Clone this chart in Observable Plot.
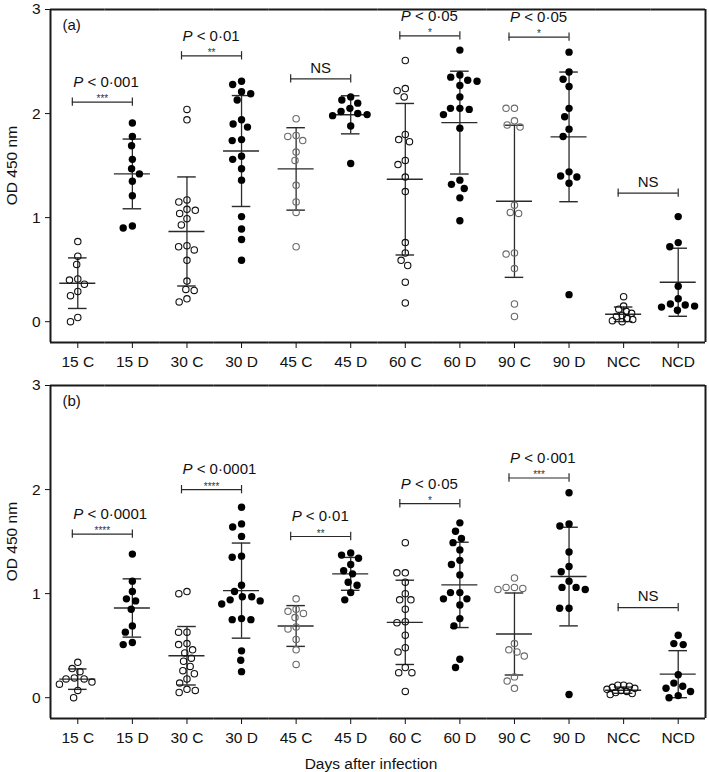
<!DOCTYPE html>
<html>
<head>
<meta charset="utf-8">
<script src="https://cdn.jsdelivr.net/npm/d3@7"></script>
<script src="https://cdn.jsdelivr.net/npm/@observablehq/plot@0.6"></script>
<style>
  html, body { margin: 0; padding: 0; background: #fff; }
  body { width: 709px; font-family: "Liberation Sans", Arial, sans-serif; }
  #caption { width: 709px; height: 24px; box-sizing: border-box; padding-left: 33px; padding-top: 7px;
             text-align: center; font-size: 15.5px; line-height: 17px; color: #111; }
  svg { display: block; }
</style>
</head>
<body>
<div id="panelA"></div>
<div id="panelB"></div>
<div id="caption">Days after infection</div>
<script>
// ---- categories ----
const cats = ["15 C", "15 D", "30 C", "30 D", "45 C", "45 D", "60 C", "60 D", "90 C", "90 D", "NCC", "NCD"];

// ---- panel (a) values (OD 450 nm) ----
const a15C = [0.77, 0.63, 0.55, 0.41, 0.40, 0.36, 0.29, 0.25, 0.04, 0.00];
const a15D = [1.91, 1.78, 1.69, 1.56, 1.47, 1.42, 1.35, 1.21, 0.92, 0.90];
const a30C = [2.04, 1.94, 1.17, 1.15, 1.08, 1.07, 1.04, 0.99, 0.93, 0.73, 0.72, 0.69, 0.59, 0.39, 0.31, 0.30, 0.22, 0.19];
const a30D = [2.31, 2.28, 2.21, 2.19, 2.13, 1.94, 1.90, 1.87, 1.75, 1.74, 1.59, 1.56, 1.47, 1.36, 1.01, 0.89, 0.79, 0.59];
const a45C = [1.95, 1.79, 1.78, 1.74, 1.63, 1.55, 1.31, 1.15, 1.05, 0.72];
const a45D = [2.16, 2.13, 2.10, 2.05, 2.02, 2.00, 1.99, 1.98, 1.88, 1.52];
const a60C = [2.51, 2.24, 2.22, 2.16, 1.80, 1.75, 1.73, 1.55, 1.51, 1.39, 1.25, 0.76, 0.66, 0.59, 0.54, 0.38, 0.18];
const a60D = [2.61, 2.37, 2.35, 2.32, 2.31, 2.27, 2.16, 2.05, 2.05, 2.04, 1.99, 1.86, 1.36, 1.32, 1.28, 1.19, 0.97];
const a90C = [2.05, 2.05, 1.93, 1.89, 1.87, 1.12, 1.05, 1.04, 0.66, 0.65, 0.51, 0.17, 0.05];
const a90D = [2.59, 2.40, 2.33, 2.26, 2.05, 1.97, 1.85, 1.78, 1.44, 1.40, 1.39, 1.33, 0.26];
const aNCC = [0.24, 0.15, 0.12, 0.10, 0.08, 0.06, 0.05, 0.03, 0.02, 0.01, 0.00];
const aNCD = [1.01, 0.76, 0.72, 0.34, 0.22, 0.17, 0.16, 0.15, 0.14, 0.11];
const aMean = [0.37, 1.42, 0.867, 1.64, 1.468, 1.988, 1.369, 1.913, 1.157, 1.776, 0.071, 0.379];
const aSD   = [0.243, 0.335, 0.524, 0.533, 0.396, 0.183, 0.728, 0.494, 0.731, 0.623, 0.07, 0.327];

// ---- panel (b) values (OD 450 nm) ----
const b15C = [0.34, 0.28, 0.25, 0.19, 0.18, 0.18, 0.15, 0.13, 0.07, 0.00];
const b15D = [1.38, 1.12, 1.02, 0.95, 0.93, 0.85, 0.69, 0.63, 0.53, 0.51];
const b30C = [1.02, 1.00, 0.63, 0.63, 0.52, 0.51, 0.46, 0.43, 0.38, 0.35, 0.30, 0.26, 0.23, 0.18, 0.14, 0.08, 0.07, 0.05];
const b30D = [1.83, 1.67, 1.64, 1.55, 1.36, 1.35, 1.08, 1.02, 0.97, 0.97, 0.94, 0.93, 0.90, 0.76, 0.75, 0.75, 0.45, 0.36, 0.25];
const b45C = [0.95, 0.85, 0.83, 0.81, 0.77, 0.68, 0.66, 0.56, 0.46, 0.32];
const b45D = [1.39, 1.37, 1.34, 1.28, 1.22, 1.19, 1.11, 1.08, 1.01, 0.94];
const b60C = [1.49, 1.20, 1.20, 1.11, 1.00, 0.94, 0.94, 0.85, 0.73, 0.72, 0.60, 0.48, 0.44, 0.29, 0.24, 0.24, 0.06];
const b60D = [1.68, 1.60, 1.53, 1.49, 1.42, 1.32, 1.28, 1.18, 1.01, 1.01, 0.95, 0.95, 0.89, 0.76, 0.69, 0.37, 0.29];
const b90C = [1.15, 1.06, 1.06, 1.05, 1.04, 0.52, 0.46, 0.44, 0.40, 0.20, 0.16, 0.09];
const b90D = [1.97, 1.67, 1.65, 1.40, 1.26, 1.21, 1.12, 1.06, 1.06, 1.04, 0.86, 0.86, 0.03];
const bNCC = [0.12, 0.12, 0.11, 0.10, 0.09, 0.08, 0.07, 0.06, 0.05, 0.04, 0.03];
const bNCD = [0.60, 0.52, 0.51, 0.22, 0.14, 0.11, 0.09, 0.06, 0.02, 0.00];
const bMean = [0.178, 0.862, 0.403, 1.029, 0.689, 1.19, 0.724, 1.084, 0.612, 1.164, 0.072, 0.226];
const bSD   = [0.098, 0.28, 0.281, 0.457, 0.196, 0.158, 0.405, 0.41, 0.394, 0.474, 0.03, 0.226];

// ---- significance brackets (left group of each pair) ----
const pairLeft = ["15 C", "30 C", "45 C", "60 C", "90 C", "NCC"];
const aBracketY = [2.11, 2.555, 2.334, 2.747, 2.735, 1.235];
const aLabels = ["P < 0·001", "P < 0·01", "NS", "P < 0·05", "P < 0·05", "NS"];
const aStars  = ["***", "**", "", "*", "*", ""];
const bBracketY = [1.572, 1.999, 1.549, 1.864, 2.111, 0.865];
const bLabels = ["P < 0·0001", "P < 0·0001", "P < 0·01", "P < 0·05", "P < 0·001", "NS"];
const bStars  = ["****", "****", "**", "*", "***", ""];

const yTicks = [0, 1, 2, 3];

function panel(groups, means, sds, bracketY, labels, stars, letter, h, mt, mb) {
  const rows = [];
  cats.forEach((c, i) => groups[i].forEach(v => rows.push({cat: c, v})));
  const stats = cats.map((c, i) => ({cat: c, mean: means[i], sd: sds[i]}));
  const brs = pairLeft.map((c, i) => ({c1: c, y: bracketY[i], label: labels[i], stars: stars[i]}));
  const ink = "#1a1a1a";
  const barInk = "#2a2a2a";
  const hollow = rows.filter(d => d.cat.endsWith("C") && d.cat !== "NCC");
  const hollowNC = rows.filter(d => d.cat === "NCC");
  const filled = rows.filter(d => !d.cat.endsWith("C"));
  const hollowStroke = d => (d.cat === "45 C" || d.cat === "90 C") ? "#6a6a6a" : "#111";
  const svg = Plot.plot({
    width: 709, height: h,
    marginLeft: 50, marginRight: 4, marginTop: mt, marginBottom: mb,
    style: {fontFamily: "Liberation Sans, Arial, sans-serif", fontSize: "15.5px", color: "#111", background: "white"},
    fx: {domain: cats, padding: 0, round: false, axis: "bottom", label: null, tickSize: 6, tickPadding: 7},
    x: {domain: [-0.5, 0.5], axis: null},
    y: {domain: [-0.2, 3], ticks: yTicks, tickFormat: d => String(d), tickSize: 5, tickPadding: 5, label: null},
    marks: [
      // mean ± SD
      Plot.ruleX(stats, {fx: "cat", x: () => 0, y1: d => d.mean - d.sd, y2: d => d.mean + d.sd, stroke: barInk, strokeWidth: 1.3}),
      Plot.ruleY(stats, {fx: "cat", y: "mean", x1: () => -0.33, x2: () => 0.33, stroke: barInk, strokeWidth: 1.4}),
      Plot.ruleY(stats, {fx: "cat", y: d => d.mean + d.sd, x1: () => -0.17, x2: () => 0.17, stroke: barInk, strokeWidth: 1.4}),
      Plot.ruleY(stats, {fx: "cat", y: d => Math.max(d.mean - d.sd, -0.2), x1: () => -0.17, x2: () => 0.17, stroke: barInk, strokeWidth: 1.4}),
      // points
      Plot.dot(hollow, Plot.dodgeX({anchor: "middle", padding: 2.0}, {fx: "cat", y: "v", r: 3.2,
        fill: "white", fillOpacity: 0, stroke: hollowStroke, strokeWidth: 1.1})),
      Plot.dot(hollowNC, Plot.dodgeX({anchor: "middle", padding: -0.6}, {fx: "cat", y: "v", r: 3.2,
        fill: "white", fillOpacity: 0, stroke: "#111", strokeWidth: 1.1})),
      Plot.dot(filled, Plot.dodgeX({anchor: "middle", padding: 2.0}, {fx: "cat", y: "v", r: 3.7, fill: "#000", stroke: "none"})),
      // brackets
      Plot.ruleY(brs, {fx: "c1", y: "y", x1: () => -0.1, x2: () => 1.0, stroke: barInk, strokeWidth: 1.2}),
      Plot.ruleX(brs, {fx: "c1", x: () => -0.1, y1: d => d.y - 0.04, y2: d => d.y + 0.04, stroke: barInk, strokeWidth: 1.2}),
      Plot.ruleX(brs, {fx: "c1", x: () => 1.0, y1: d => d.y - 0.04, y2: d => d.y + 0.04, stroke: barInk, strokeWidth: 1.2}),
      Plot.text(brs.filter(d => d.label !== "NS"), {fx: "c1", x: () => -0.1, y: "y", text: "label", textAnchor: "start", dx: 1, dy: -20, fontSize: 15, fill: "#111"}),
      Plot.text(brs.filter(d => d.label === "NS"), {fx: "c1", x: () => 0.45, y: "y", text: "label", dy: -11, fontSize: 15, fill: "#111"}),
      Plot.text(brs.filter(d => d.stars), {fx: "c1", x: () => 0.45, y: "y", text: "stars", dy: -3, fontSize: 10, fill: "#333"}),
      // panel letter and y label
      Plot.text([letter], {fx: () => cats[0], frameAnchor: "top-left", dx: 12, dy: 10, textAnchor: "start", lineAnchor: "top", fontSize: 15, fill: "#111"}),
      Plot.text(["OD 450 nm"], {fx: () => cats[0], x: () => -0.5, y: () => 1.5, dx: -38, rotate: -90, fontSize: 15.5, fill: "#111"}),
      // frame
      Plot.ruleY([-0.2, 3], {stroke: ink, strokeWidth: 2}),
      Plot.ruleX([cats[0]], {fx: d => d, x: () => -0.5, stroke: ink, strokeWidth: 2}),
      Plot.ruleX([cats[cats.length - 1]], {fx: d => d, x: () => 0.5, stroke: ink, strokeWidth: 2})
    ]
  });
  // italic P in the P-value labels
  const ns = "http://www.w3.org/2000/svg";
  for (const t of svg.querySelectorAll("text")) {
    const s = t.textContent;
    if (s.startsWith("P <")) {
      t.textContent = "";
      const p = document.createElementNS(ns, "tspan");
      p.setAttribute("font-style", "italic");
      p.textContent = "P";
      t.append(p, s.slice(1));
    }
  }
  return svg;
}

const A = [a15C, a15D, a30C, a30D, a45C, a45D, a60C, a60D, a90C, a90D, aNCC, aNCD];
const B = [b15C, b15D, b30C, b30D, b45C, b45D, b60C, b60D, b90C, b90D, bNCC, bNCD];
document.getElementById("panelA").append(panel(A, aMean, aSD, aBracketY, aLabels, aStars, "(a)", 372, 9, 30));
document.getElementById("panelB").append(panel(B, bMean, bSD, bBracketY, bLabels, bStars, "(b)", 376, 13, 30));
</script>
</body>
</html>
